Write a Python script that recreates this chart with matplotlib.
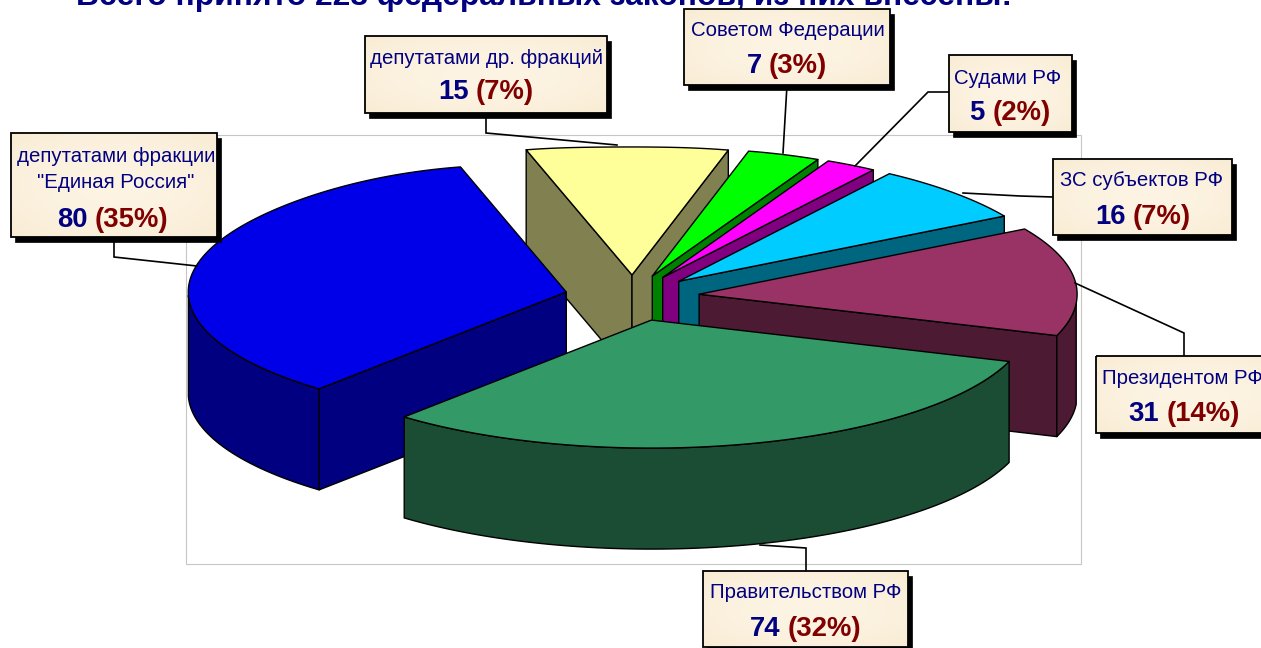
import numpy as np
import matplotlib
matplotlib.use("Agg")
import matplotlib.pyplot as plt
from matplotlib.patches import Polygon, Rectangle

# ---------- data ----------
TITLE = "Всего принято 228 федеральных законов, из них внесены:"
categories = ["депутатами др. фракций", "Советом Федерации", "Судами РФ",
              "ЗС субъектов РФ", "Президентом РФ", "Правительством РФ",
              'депутатами фракции\n"Единая Россия"']
values = [15, 7, 5, 16, 31, 74, 80]

# ---------- styles ----------
top_colors = ["#FFFF99", "#00FF00", "#FF00FF", "#00CCFF", "#993366", "#339966", "#0000E8"]
side_colors = ["#808050", "#008000", "#800080", "#006680", "#4D1A33", "#1A4D33", "#000080"]
NAVY, DARKRED = "#000080", "#800000"
FONT = "Liberation Sans"

# ---------- layout (pixels) ----------
CX, CY, RX, RY, DEPTH, EXPLODE = 632, 298, 378, 128, 101, 0.18
WIDEN_RIGHT, WIDEN_LEFT = 16, 31
TILT_RIGHT, TILT_LEFT = 4.0, 1.5
PLOT_BOX = (186, 135, 1081, 564)
boxes = [(365, 36, 607, 113), (684, 9, 890, 85), (949, 55, 1072, 132),
         (1053, 159, 1232, 235), (1096, 356, 1290, 433), (703, 571, 908, 647),
         (11, 133, 217, 237)]
leaders = [[(486, 113), (486, 133), (617, 145)],
           [(787, 85), (783, 153)],
           [(949, 92), (928, 92), (855, 166)],
           [(1053, 197), (1020, 196), (963, 193)],
           [(1184, 356), (1184, 333), (1075, 283)],
           [(806, 571), (806, 548), (760, 545)],
           [(114, 237), (114, 257), (197, 266)]]
name_y = [[59], [31], [78], [181], [378], [593], [156, 183]]
value_y = [92, 66, 113, 217, 414, 629, 220]
name_cx = [486, 788, 1008, 1142, 1182, 806, 116]
value_cx = [486, 787, 1010, 1143, 1184, 806, 113]

W, H = 1261, 648
fig = plt.figure(figsize=(W / 100, H / 100), dpi=100)
ax = fig.add_axes([0, 0, 1, 1])
ax.set_xlim(0, W)
ax.set_ylim(H, 0)
ax.axis("off")


def rim(theta, apex):
    """Screen position of a rim point (degrees clockwise from the back)."""
    t = np.radians(theta)
    s = np.sin(t)
    t = t + np.radians(np.where(s > 0, TILT_RIGHT, TILT_LEFT) * s)
    s, c = np.sin(t), np.cos(t)
    widen = np.where(s > 0, WIDEN_RIGHT, WIDEN_LEFT) * np.tanh(s / 0.1) * np.clip(c, 0, None) ** 6
    return np.column_stack([apex[0] + RX * s + widen, apex[1] - RY * c])


# plot area frame
x0, y0, x1, y1 = PLOT_BOX
ax.add_patch(Rectangle((x0, y0), x1 - x0, y1 - y0, fill=False, ec="#c6c6c6", lw=0.8, zorder=1))

# slices
total = sum(values)
starts = -values[0] / total * 180 + np.cumsum([0] + values[:-1]) / total * 360
sweeps = np.array(values) / total * 360
order = sorted(range(len(values)), key=lambda i: -np.cos(np.radians(starts[i] + sweeps[i] / 2)))
z = 2
for i in order:
    a0, a1 = starts[i], starts[i] + sweeps[i]
    mid = np.radians((a0 + a1) / 2)
    apex = (CX + EXPLODE * RX * np.sin(mid), CY - EXPLODE * RY * np.cos(mid))
    down = np.array([0, DEPTH])
    kw = dict(ec="black", lw=1.0, joinstyle="round")
    # radial side faces that look towards the viewer
    for ang, sgn in ((a0, -1), (a1, 1)):
        if sgn * np.sin(np.radians(ang)) > 0:
            end = rim(np.array([ang]), apex)[0]
            ap = np.array(apex)
            ax.add_patch(Polygon([ap, end, end + down, ap + down], fc=side_colors[i], zorder=z, **kw))
    # outer wall (front half of the rim only)
    w0, w1 = max(a0, 90), min(a1, 270)
    if w1 > w0:
        arc = rim(np.linspace(w0, w1, 120), apex)
        ax.add_patch(Polygon(np.vstack([arc, (arc + down)[::-1]]), fc=side_colors[i], zorder=z, **kw))
    # top face
    arc = rim(np.linspace(a0, a1, 160), apex)
    ax.add_patch(Polygon(np.vstack([[apex], arc]), fc=top_colors[i], zorder=z + 1, **kw))
    z += 2

# leader lines
for pts in leaders:
    xs, ys = zip(*pts)
    ax.plot(xs, ys, color="black", lw=1.2, zorder=40, solid_joinstyle="miter")

# paper texture gradient for labels
yy, xx = np.mgrid[-1:1:40j, -1:1:60j]
shade = np.clip((xx ** 2 + yy ** 2) / 2, 0, 1)[..., None]
paper = (1 - shade) * np.array([0.99, 0.955, 0.89]) + shade * np.array([0.975, 0.925, 0.83])

renderer = fig.canvas.get_renderer()


def centered_pair(cx, y, left, right, size):
    a = ax.text(0, y, left, color=NAVY, fontsize=size, fontweight="bold", family=FONT,
                ha="left", va="center", zorder=60)
    b = ax.text(0, y, right, color=DARKRED, fontsize=size, fontweight="bold", family=FONT,
                ha="left", va="center", zorder=60)
    wa = a.get_window_extent(renderer).width
    wb = b.get_window_extent(renderer).width
    gap = size * 0.36
    start = cx - (wa + gap + wb) / 2
    a.set_x(start)
    b.set_x(start + wa + gap)


for i, (bx0, by0, bx1, by1) in enumerate(boxes):
    ax.add_patch(Rectangle((bx0 + 4, by0 + 5), bx1 - bx0, by1 - by0, fc="black", ec="black", lw=0.5, zorder=50))
    ax.imshow(paper, extent=(bx0, bx1, by1, by0), aspect="auto", zorder=51, interpolation="bilinear")
    ax.add_patch(Rectangle((bx0, by0), bx1 - bx0, by1 - by0, fill=False, ec="black", lw=1.3, zorder=52))
    for line, ly in zip(categories[i].split("\n"), name_y[i]):
        ax.text(name_cx[i], ly, line, color=NAVY, fontsize=14.7, family=FONT,
                ha="center", va="center", zorder=60)
    pct = round(values[i] / total * 100)
    centered_pair(value_cx[i], value_y[i], str(values[i]), f"({pct}%)", 19.8)

ax.set_xlim(0, W)
ax.set_ylim(H, 0)

ax.text(544, 5, TITLE, color=NAVY, fontsize=22.9, fontweight="bold", family=FONT,
        ha="center", va="baseline", zorder=45, clip_on=False)

fig.savefig("out.png", dpi=100)
